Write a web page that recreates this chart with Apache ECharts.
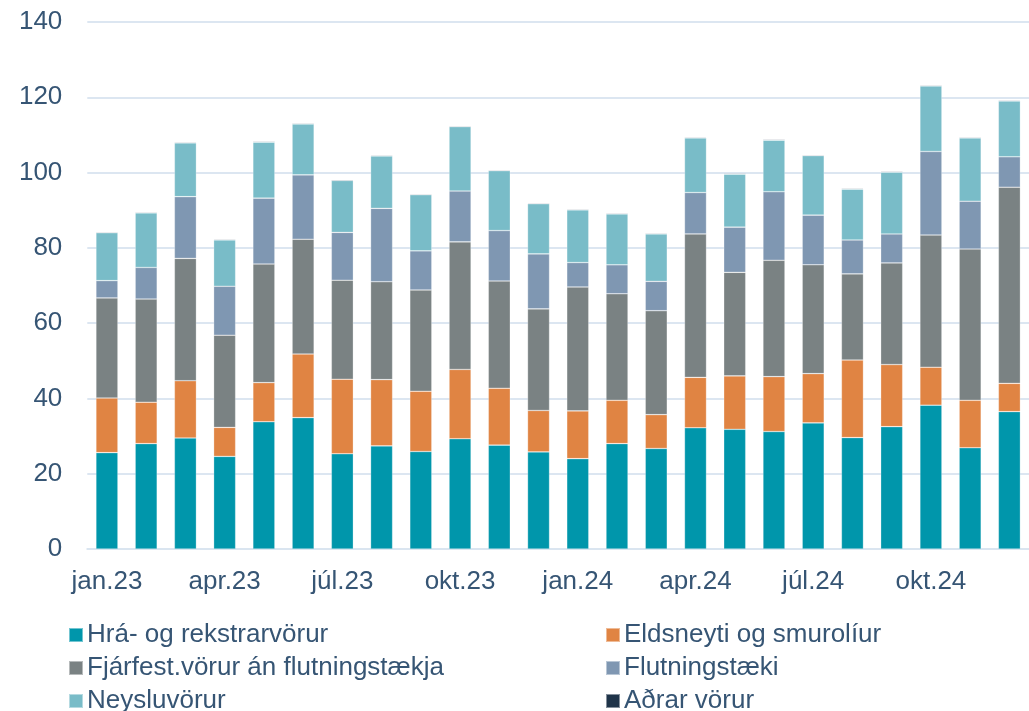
<!DOCTYPE html>
<html>
<head>
<meta charset="utf-8">
<title>Vöruinnflutningur</title>
<script src="https://cdn.jsdelivr.net/npm/echarts@6/dist/echarts.min.js"></script>
<style>
  html, body { margin: 0; padding: 0; background: #fff; }
  #chart { width: 1029px; height: 711px; }
</style>
</head>
<body>
<div id="chart"></div>
<script>
// mánuðir
const months = [
  'jan.23', 'feb.23', 'mar.23', 'apr.23', 'maí.23', 'jún.23', 'júl.23', 'ágú.23', 'sep.23', 'okt.23', 'nóv.23', 'des.23',
  'jan.24', 'feb.24', 'mar.24', 'apr.24', 'maí.24', 'jún.24', 'júl.24', 'ágú.24', 'sep.24', 'okt.24', 'nóv.24', 'des.24'
]

// gildi hvers flokks, lesin af myndinni
const hraOgRekstrar = [25.6, 28.0, 29.5, 24.6, 33.8, 34.9, 25.3, 27.4, 25.9, 29.3, 27.6, 25.8,
  24.0, 28.0, 26.7, 32.2, 31.8, 31.2, 33.5, 29.6, 32.5, 38.2, 26.9, 36.5]
const eldsneyti = [14.5, 11.0, 15.2, 7.7, 10.4, 16.9, 19.8, 17.6, 16.0, 18.4, 15.1, 11.0,
  12.7, 11.5, 9.0, 13.4, 14.2, 14.6, 13.1, 20.6, 16.5, 10.1, 12.6, 7.5]
const fjarfest = [26.6, 27.4, 32.5, 24.5, 31.5, 30.5, 26.3, 26.0, 26.9, 33.9, 28.5, 27.0,
  32.9, 28.3, 27.6, 38.1, 27.5, 30.9, 28.9, 22.9, 27.0, 35.1, 40.2, 52.1]
const flutningstaeki = [4.6, 8.4, 16.4, 13.0, 17.5, 17.1, 12.7, 19.5, 10.4, 13.5, 13.4, 14.6,
  6.5, 7.7, 7.8, 11.0, 12.0, 18.2, 13.2, 9.0, 7.7, 22.2, 12.7, 8.1]
const neysluvorur = [12.7, 14.5, 14.3, 12.3, 14.9, 13.5, 13.8, 13.9, 14.9, 17.1, 15.9, 13.3,
  14.0, 13.5, 12.6, 14.5, 14.1, 13.7, 15.8, 13.5, 16.4, 17.4, 16.8, 14.8]
const adrarVorur = [0.2, 0.2, 0.2, 0.2, 0.2, 0.2, 0.2, 0.2, 0.2, 0.2, 0.2, 0.2,
  0.2, 0.2, 0.2, 0.2, 0.2, 0.2, 0.2, 0.2, 0.2, 0.2, 0.2, 0.2]

const yTicks = { min: 0, max: 140, interval: 20 }

const textColor = '#365574'
const fontFamily = 'Liberation Sans, Arial, sans-serif'

const seriesDefs = [
  { name: 'Hrá- og rekstrarvörur', data: hraOgRekstrar, color: '#0096AB' },
  { name: 'Eldsneyti og smurolíur', data: eldsneyti, color: '#E08443' },
  { name: 'Fjárfest.vörur án flutningstækja', data: fjarfest, color: '#7A8283' },
  { name: 'Flutningstæki', data: flutningstaeki, color: '#7F97B2' },
  { name: 'Neysluvörur', data: neysluvorur, color: '#79BCC8' },
  { name: 'Aðrar vörur', data: adrarVorur, color: '#1F3449' }
]

const chart = echarts.init(document.getElementById('chart'))

// þjóðsaga: tveir dálkar, þrjár raðir, hver færsla sett sér
const legendCols = [63, 600]
const legendRows = [617, 650, 683]
const legends = seriesDefs.map((s, i) => ({
  data: [s.name],
  left: legendCols[i % 2],
  top: legendRows[Math.floor(i / 2)],
  icon: 'rect',
  itemWidth: 14,
  itemHeight: 14,
  itemGap: 0,
  textStyle: {
    color: textColor,
    fontSize: 26,
    fontFamily: fontFamily,
    padding: [0, 0, 0, -1]
  }
}))

const option = {
  animation: false,
  grid: {
    left: 87.3,
    right: -2.7,
    top: 22,
    bottom: 162
  },
  legend: legends,
  xAxis: {
    type: 'category',
    data: months,
    axisLine: { show: true, lineStyle: { color: '#DAE5F0', width: 2 } },
    axisTick: { show: false },
    axisLabel: {
      interval: 2,
      color: textColor,
      fontSize: 26,
      fontFamily: fontFamily,
      margin: 20
    }
  },
  yAxis: {
    type: 'value',
    min: yTicks.min,
    max: yTicks.max,
    interval: yTicks.interval,
    axisLine: { show: false },
    axisTick: { show: false },
    axisLabel: {
      color: textColor,
      fontSize: 26,
      fontFamily: fontFamily,
      margin: 25
    },
    splitLine: { lineStyle: { color: '#DCE6F1', width: 2 } }
  },
  series: seriesDefs.map(s => ({
    name: s.name,
    type: 'bar',
    stack: 'total',
    data: s.data,
    barWidth: 22,
    itemStyle: {
      color: s.color,
      borderColor: 'rgba(255,255,255,0.45)',
      borderWidth: 0.6
    }
  }))
}

chart.setOption(option)
</script>
</body>
</html>
